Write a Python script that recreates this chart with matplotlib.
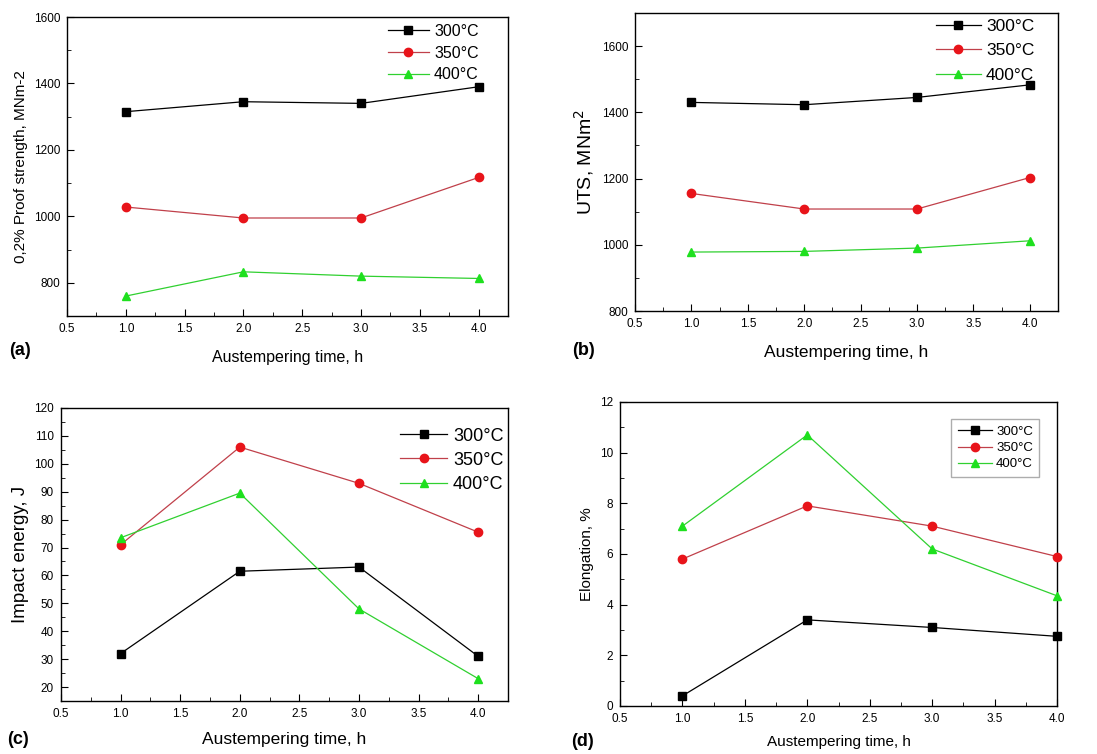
import matplotlib
matplotlib.use("Agg")
import matplotlib.pyplot as plt
from matplotlib.ticker import MultipleLocator

plt.rcParams['font.family'] = ['Liberation Sans', 'DejaVu Sans']

time_h = [1.0, 2.0, 3.0, 4.0]
series_labels = ["300°C", "350°C", "400°C"]

proof_300 = [1315, 1345, 1340, 1390]
proof_350 = [1028, 995, 995, 1117]
proof_400 = [760, 833, 820, 813]

uts_300 = [1430, 1423, 1445, 1483]
uts_350 = [1155, 1108, 1108, 1203]
uts_400 = [978, 980, 990, 1012]

impact_300 = [32, 61.5, 63, 31]
impact_350 = [71, 106, 93, 75.5]
impact_400 = [73.5, 89.5, 48, 23]

elong_300 = [0.4, 3.4, 3.1, 2.75]
elong_350 = [5.8, 7.9, 7.1, 5.9]
elong_400 = [7.1, 10.7, 6.2, 4.35]

W, H = 1097, 754
fig = plt.figure(figsize=(W / 100, H / 100), dpi=100)


def add_ax(left, right, top, bottom):
    return fig.add_axes([left / W, (H - bottom) / H, (right - left) / W, (bottom - top) / H])


colors = ['black', '#e8141a', '#1ee01e']
line_colors = ['black', '#c0404a', '#30d030']
markers = ['s', 'o', '^']


def panel(ax, data, ylim, ymaj, ymin, xlim, ylabel, ylfs, legfs, legframe, letter, letter_xy, xlabel_fs,
          xlabelpad, leg_anchor, labelspacing):
    for vals, c, lc, m, lab in zip(data, colors, line_colors, markers, series_labels):
        ax.plot(time_h, vals, color=lc, lw=0.9, marker=m, markersize=6,
                markerfacecolor=c, markeredgecolor=c, label=lab, clip_on=False, zorder=3)
    ax.set_xlim(*xlim)
    ax.set_ylim(*ylim)
    ax.xaxis.set_major_locator(MultipleLocator(0.5))
    ax.xaxis.set_minor_locator(MultipleLocator(0.25))
    ax.yaxis.set_major_locator(MultipleLocator(ymaj))
    ax.yaxis.set_minor_locator(MultipleLocator(ymin))
    ax.tick_params(which='both', direction='in', top=False, right=False, labelsize=8.5, pad=5)
    ax.tick_params(which='major', length=5)
    ax.tick_params(which='minor', length=3)
    ax.xaxis.set_major_formatter(matplotlib.ticker.FormatStrFormatter('%.1f'))
    ax.yaxis.set_major_formatter(matplotlib.ticker.FormatStrFormatter('%d'))
    for s in ax.spines.values():
        s.set_linewidth(1.0)
    ax.set_xlabel("Austempering time, h", fontsize=xlabel_fs, labelpad=xlabelpad)
    ax.set_ylabel(ylabel, fontsize=ylfs)
    leg = ax.legend(loc='upper right', bbox_to_anchor=leg_anchor, fontsize=legfs, frameon=legframe,
                    handlelength=2.6, handletextpad=0.3, labelspacing=labelspacing, borderpad=0.5,
                    fancybox=False)
    if legframe:
        leg.get_frame().set_edgecolor('#999999')
        leg.get_frame().set_linewidth(1.0)
    fig.text(letter_xy[0] / W, 1 - letter_xy[1] / H, letter, fontsize=13, fontweight='bold',
             ha='left', va='center')


axa = add_ax(67, 508, 17, 316)
panel(axa, [proof_300, proof_350, proof_400], (700, 1600), 200, 100, (0.5, 4.25),
      "0,2% Proof strength, MNm-2", 11, 11.5, False, "(a)", (9, 351), 11.5, 11,
      (0.97, 1.03), 0.42)

axb = add_ax(635, 1058, 13, 311)
panel(axb, [uts_300, uts_350, uts_400], (800, 1700), 200, 100, (0.5, 4.25),
      "UTS, MNm$^{2}$", 14, 12.5, False, "(b)", (572, 350), 12.5, 11,
      (0.985, 1.04), 0.55)

axc = add_ax(61, 508, 408, 701)
panel(axc, [impact_300, impact_350, impact_400], (15, 120), 10, 5, (0.5, 4.25),
      "Impact energy, J", 13.5, 13, False, "(c)", (7, 740), 12.5, 9,
      (1.03, 0.995), 0.4)

axd = add_ax(620, 1057, 402, 706)
panel(axd, [elong_300, elong_350, elong_400], (0, 12), 2, 1, (0.5, 4.0),
      "Elongation, %", 11, 9.5, True, "(d)", (571, 741), 11, 7,
      (0.975, 0.965), 0.3)

fig.savefig("out.png", dpi=100, facecolor='white')
